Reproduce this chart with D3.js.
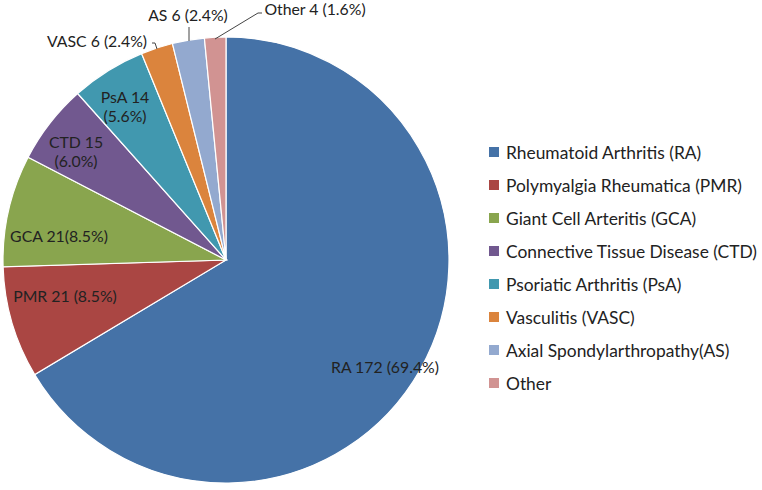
<!DOCTYPE html>
<html>
<head>
<meta charset="utf-8">
<script src="https://cdn.jsdelivr.net/npm/d3@7"></script>
<style>
  body { margin: 0; background: #fff; }
  svg { font-family: Lato, "Open Sans", sans-serif; }
</style>
</head>
<body>
<svg id="chart"></svg>
<script>
const width = 762, height = 490
const codes = ['RA', 'PMR', 'GCA', 'CTD', 'PsA', 'VASC', 'AS', 'Other']
const counts = [172, 21, 21, 15, 14, 6, 6, 4]
const sliceLabels = [['RA 172 (69.4%)'], ['PMR 21 (8.5%)'], ['GCA 21(8.5%)'], ['CTD 15', '(6.0%)'],
  ['PsA 14', '(5.6%)'], ['VASC 6 (2.4%)'], ['AS 6 (2.4%)'], ['Other 4 (1.6%)']]
const legendNames = ['Rheumatoid Arthritis (RA)', 'Polymyalgia Rheumatica (PMR)', 'Giant Cell Arteritis (GCA)',
  'Connective Tissue Disease (CTD)', 'Psoriatic Arthritis (PsA)', 'Vasculitis (VASC)',
  'Axial Spondylarthropathy(AS)', 'Other']
const colours = ['#4572A7', '#AA4643', '#89A54E', '#71588F', '#4198AF', '#DB843D', '#93A9CF', '#D19392']

let svg = d3.select('#chart').attr('width', width).attr('height', height)

let cx = 226, cy = 260, radius = 223
let color = d3.scaleOrdinal().domain(codes).range(colours)

let pie = d3.pie().sort(null).value(d => d.v)
let arcs = pie(codes.map((c, i) => ({code: c, v: counts[i], i: i})))
let arc = d3.arc().innerRadius(0).outerRadius(radius)

let g = svg.append('g').attr('transform', `translate(${cx},${cy})`)
g.selectAll('path.slice').data(arcs).enter().append('path')
  .attr('class', 'slice')
  .attr('d', arc)
  .attr('fill', d => color(d.data.code))
  .attr('stroke', '#fff')
  .attr('stroke-width', 1.2)

// label centres (relative to pie centre)
const labelPos = [[159, 106], [-161, 35], [-167, -25], [-150, -110], [-101, -155], [-129, -220], [-38, -246], [89, -252]]

let lbl = g.selectAll('text.lbl').data(arcs).enter().append('text')
  .attr('class', 'lbl')
  .attr('font-size', 15.8)
  .attr('fill', '#222')
  .attr('text-anchor', 'middle')
  .attr('dominant-baseline', 'central')
lbl.each(function(d, i) {
  let lines = sliceLabels[i]
  let t = d3.select(this)
  lines.forEach((s, k) => {
    t.append('tspan').attr('x', labelPos[i][0])
      .attr('y', labelPos[i][1] + (k - (lines.length - 1) / 2) * 19)
      .text(s)
  })
})

// leader lines for the small slices
const leaders = [
  {i: 5, pts: [[-74, -217], [-71, -217], [-69, -211]]},
  {i: 6, pts: [[-37, -233], [-37, -219]]},
  {i: 7, pts: [[36, -247], [32, -247], [-11, -221]]}
]
g.selectAll('path.leader').data(leaders).enter().append('path')
  .attr('class', 'leader')
  .attr('d', d => d3.line()(d.pts))
  .attr('fill', 'none')
  .attr('stroke', '#444')
  .attr('stroke-width', 1)

// legend
let legend = svg.append('g').attr('transform', 'translate(489,152)')
let item = legend.selectAll('g.item').data(legendNames).enter().append('g')
  .attr('class', 'item')
  .attr('transform', (d, i) => `translate(0,${i * 33})`)
item.append('rect')
  .attr('x', 0).attr('y', -5).attr('width', 10).attr('height', 10)
  .attr('fill', (d, i) => colours[i])
item.append('text')
  .attr('x', 17).attr('y', 0)
  .attr('dominant-baseline', 'central')
  .attr('font-size', 17.4)
  .attr('fill', '#222')
  .text(d => d)
</script>
</body>
</html>
